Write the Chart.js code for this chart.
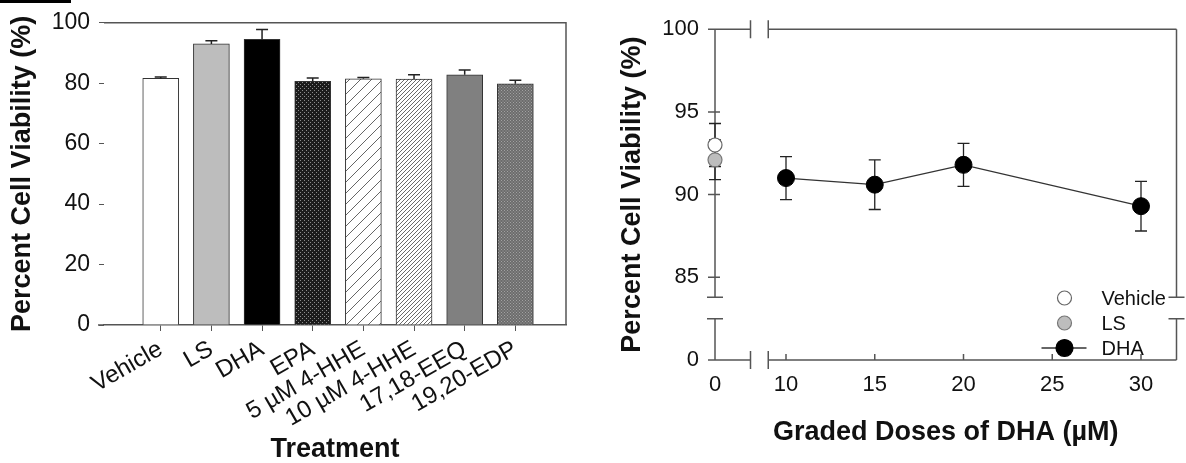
<!DOCTYPE html>
<html>
<head>
<meta charset="utf-8">
<script src="https://cdn.jsdelivr.net/npm/chart.js@4.4.0/dist/chart.umd.min.js"></script>
<style>
  html, body { margin: 0; padding: 0; background: #fff; }
  #wrap  { position: relative; width: 1186px; height: 463px; overflow: hidden; }
  #left  { position: absolute; left: 0; top: 0; width: 600px; height: 463px; }
  #right { position: absolute; left: 600px; top: 0; width: 586px; height: 463px; }
  #mark  { position: absolute; left: 0; top: 0; width: 71px; height: 3px; background: #000; }
</style>
</head>
<body>
<div id="wrap">
  <div id="left"><canvas id="relTreat"></canvas></div>
  <div id="right"><canvas id="relDoses"></canvas></div>
  <div id="mark"></div>
</div>
<script>
// left panel: treatments
var treatments = ["Vehicle", "LS", "DHA", "EPA", "5 µM 4-HHE", "10 µM 4-HHE", "17,18-EEQ", "19,20-EDP"]
var viability  = [81.6, 93.0, 94.5, 80.6, 81.5, 81.4, 82.8, 79.8]
var viabErr    = [0.5, 1.1, 3.3, 1.1, 0.4, 1.4, 1.6, 1.2]

// right panel: graded doses of DHA
var doses       = [10, 15, 20, 30]
var dhaViab     = [91.0, 90.6, 91.8, 89.3]
var dhaErr      = [1.3, 1.5, 1.3, 1.5]
var controlDose = 0
var vehicleViab = [93.0], vehicleErr = [1.3]
var lsViab      = [92.1], lsErr      = [1.2]
var doseTicks   = [0, 10, 15, 20, 25, 30]
var viabTicks   = [0, 85, 90, 95, 100]

// axis breaks (0 is drawn next to the break)
var xZeroAt = 6, xBreak = [8, 9]
var yZeroAt = 80, yBreak = [82.5, 83.8]
function bx(v){ return v === 0 ? xZeroAt : v }
function by(v){ return v === 0 ? yZeroAt : v }

var FONT = "'Liberation Sans', Arial, sans-serif"
Chart.defaults.font.family = FONT
Chart.defaults.color = "#111"

function makePattern(size, draw){
  var c = document.createElement("canvas")
  c.width = c.height = size
  var g = c.getContext("2d")
  draw(g, size)
  return g.createPattern(c, "repeat")
}
function hatch(bg, fg, step, lw){
  return makePattern(step, function(g, s){
    g.fillStyle = bg; g.fillRect(0, 0, s, s)
    g.strokeStyle = fg; g.lineWidth = lw
    g.beginPath()
    g.moveTo(0, s); g.lineTo(s, 0)
    g.moveTo(-1, 1); g.lineTo(1, -1)
    g.moveTo(s - 1, s + 1); g.lineTo(s + 1, s - 1)
    g.stroke()
  })
}
function dots(bg, fg, step){
  return makePattern(step, function(g, s){
    g.fillStyle = bg; g.fillRect(0, 0, s, s)
    g.fillStyle = fg
    g.fillRect(0, 0, 1, 1)
    g.fillRect(s / 2, s / 2, 1, 1)
  })
}

var barFills = [
  "#ffffff",
  "#bdbdbd",
  "#000000",
  dots("#1c1c1c", "#8c8c8c", 4),
  hatch("#ffffff", "#666666", 11, 1),
  hatch("#ffffff", "#6a6a6a", 4, 1),
  "#808080",
  dots("#6c6c6c", "#a2a2a2", 3)
]

//ERROR BARS ON THE TREATMENT BARS (UP ONLY) + FRAME
var barExtras = {
  id: "barExtras",
  afterDatasetsDraw: function(chart){
    var ctx = chart.ctx, xs = chart.scales.x, ys = chart.scales.y, a = chart.chartArea
    ctx.save()
    ctx.strokeStyle = "#222"
    ctx.lineWidth = 1.5
    viability.forEach(function(v, i){
      var x = xs.getPixelForValue(i)
      var y0 = ys.getPixelForValue(v), y1 = ys.getPixelForValue(v + viabErr[i])
      ctx.beginPath()
      ctx.moveTo(x, y0); ctx.lineTo(x, y1)
      ctx.moveTo(x - 6, y1); ctx.lineTo(x + 6, y1)
      ctx.stroke()
    })
    ctx.strokeStyle = "#555"
    ctx.beginPath()
    ctx.moveTo(a.left, a.top); ctx.lineTo(a.right, a.top); ctx.lineTo(a.right, a.bottom)
    ctx.moveTo(a.left - 6, a.bottom); ctx.lineTo(a.left, a.bottom)
    ctx.stroke()
    ctx.restore()
  }
}

new Chart(document.getElementById("relTreat"), {
  type: "bar",
  data: {
    datasets: [{
      data: viability.map(function(v, i){ return { x: i, y: v } }),
      backgroundColor: barFills,
      borderColor: "#333",
      borderWidth: 1,
      barThickness: 36
    }]
  },
  options: {
    responsive: true,
    maintainAspectRatio: false,
    animation: false,
    layout: { padding: { left: 0, right: 34, top: 21, bottom: 0 } },
    plugins: { legend: { display: false }, tooltip: { enabled: false } },
    scales: {
      x: {
        type: "linear",
        offset: false,
        min: -1.12,
        max: 8.0,
        afterBuildTicks: function(s){ s.ticks = treatments.map(function(t, i){ return { value: i } }) },
        afterFit: function(s){ s.height = 138 },
        ticks: {
          callback: function(v){ return treatments[v] },
          autoSkip: false,
          minRotation: 30,
          maxRotation: 30,
          padding: 4,
          font: { size: 24 }
        },
        grid: { display: true, offset: false, drawOnChartArea: false, drawTicks: true, tickLength: 6, color: "#555" },
        border: { display: true, color: "#555", width: 1.5 },
        title: { display: true, text: "Treatment", font: { size: 27, weight: "bold" }, padding: { top: 0, bottom: -3 } }
      },
      y: {
        min: 0,
        max: 100,
        ticks: { stepSize: 20, padding: 9, font: { size: 23 } },
        afterFit: function(s){ s.width = 104 },
        grid: { display: true, drawOnChartArea: false, drawTicks: true, tickLength: 5, color: "#555" },
        border: { display: false },
        title: { display: true, text: "Percent Cell Viability (%)", font: { size: 27, weight: "bold" }, padding: { top: 6, bottom: 0 } }
      }
    }
  },
  plugins: [barExtras]
})

//ERROR BARS, BROKEN FRAME AND LEGEND FOR THE DOSE PANEL
function errPairs(xv, yv, ev){
  return yv.map(function(v, i){ return [bx(xv[i]), v, ev[i]] })
}
var doseExtras = {
  id: "doseExtras",
  beforeDatasetsDraw: function(chart){
    var ctx = chart.ctx, xs = chart.scales.x, ys = chart.scales.y, a = chart.chartArea
    ctx.save()
    ctx.strokeStyle = "#555"
    ctx.lineWidth = 1.5
    var xb0 = xs.getPixelForValue(xBreak[0]), xb1 = xs.getPixelForValue(xBreak[1])
    var yb0 = ys.getPixelForValue(yBreak[1]), yb1 = ys.getPixelForValue(yBreak[0])
    ctx.beginPath()
    // top and bottom lines with a gap
    ;[a.top, a.bottom].forEach(function(y){
      ctx.moveTo(a.left, y); ctx.lineTo(xb0, y)
      ctx.moveTo(xb1, y); ctx.lineTo(a.right, y)
      ctx.moveTo(xb0, y - 9); ctx.lineTo(xb0, y + 9)
      ctx.moveTo(xb1, y - 9); ctx.lineTo(xb1, y + 9)
    })
    // left and right lines with a gap
    ;[a.left, a.right].forEach(function(x){
      ctx.moveTo(x, a.top); ctx.lineTo(x, yb0)
      ctx.moveTo(x, yb1); ctx.lineTo(x, a.bottom)
      ctx.moveTo(x - 8, yb0); ctx.lineTo(x + 8, yb0)
      ctx.moveTo(x - 8, yb1); ctx.lineTo(x + 8, yb1)
    })
    viabTicks.forEach(function(t){
      var y = ys.getPixelForValue(by(t))
      ctx.moveTo(a.left - 7, y); ctx.lineTo(a.left + 5, y)
    })
    doseTicks.forEach(function(t){
      var x = xs.getPixelForValue(bx(t))
      ctx.moveTo(x, a.bottom); ctx.lineTo(x, a.bottom - 6)
    })
    ctx.stroke()

    ctx.strokeStyle = "#222"
    ctx.lineWidth = 1.3
    var all = errPairs(doses, dhaViab, dhaErr)
      .concat(errPairs([controlDose], vehicleViab, vehicleErr))
      .concat(errPairs([controlDose], lsViab, lsErr))
    ctx.beginPath()
    all.forEach(function(p){
      var x = xs.getPixelForValue(p[0])
      var ylo = ys.getPixelForValue(p[1] - p[2]), yhi = ys.getPixelForValue(p[1] + p[2])
      ctx.moveTo(x, ylo); ctx.lineTo(x, yhi)
      ctx.moveTo(x - 6, ylo); ctx.lineTo(x + 6, ylo)
      ctx.moveTo(x - 6, yhi); ctx.lineTo(x + 6, yhi)
    })
    ctx.stroke()
    ctx.restore()
  },
  afterDatasetsDraw: function(chart){
    var ctx = chart.ctx, a = chart.chartArea
    var mx = a.right - 112, tx = a.right - 75
    var rows = [a.bottom - 62, a.bottom - 37, a.bottom - 12]
    ctx.save()
    ctx.font = "20px " + FONT
    ctx.textBaseline = "middle"
    ctx.fillStyle = "#111"
    chart.data.datasets.forEach(function(ds, i){
      var y = rows[i]
      if (ds.showLine !== false) {
        ctx.strokeStyle = ds.borderColor; ctx.lineWidth = 1.3
        ctx.beginPath(); ctx.moveTo(mx - 23, y); ctx.lineTo(mx + 22, y); ctx.stroke()
      }
      ctx.beginPath()
      ctx.arc(mx, y, ds.pointRadius, 0, Math.PI * 2)
      ctx.fillStyle = ds.pointBackgroundColor
      ctx.fill()
      ctx.strokeStyle = ds.pointBorderColor; ctx.lineWidth = 1.2
      ctx.stroke()
      ctx.fillStyle = "#111"
      ctx.fillText(ds.label, tx, y + 1)
    })
    ctx.restore()
  }
}

new Chart(document.getElementById("relDoses"), {
  type: "line",
  data: {
    datasets: [{
      label: "Vehicle",
      data: vehicleViab.map(function(v){ return { x: bx(controlDose), y: v } }),
      showLine: false,
      pointRadius: 7,
      pointBackgroundColor: "#ffffff",
      pointBorderColor: "#666",
      pointBorderWidth: 1.2,
      clip: false
    }, {
      label: "LS",
      data: lsViab.map(function(v){ return { x: bx(controlDose), y: v } }),
      showLine: false,
      pointRadius: 7,
      pointBackgroundColor: "#bdbdbd",
      pointBorderColor: "#777",
      pointBorderWidth: 1.2,
      clip: false
    }, {
      label: "DHA",
      data: doses.map(function(d, i){ return { x: bx(d), y: dhaViab[i] } }),
      borderColor: "#333",
      borderWidth: 1.3,
      pointRadius: 8.5,
      pointBackgroundColor: "#000",
      pointBorderColor: "#000",
      pointBorderWidth: 1,
      clip: false
    }]
  },
  options: {
    responsive: true,
    maintainAspectRatio: false,
    animation: false,
    layout: { padding: { left: 0, right: 2, top: 26, bottom: 0 } },
    plugins: { legend: { display: false }, tooltip: { enabled: false } },
    scales: {
      x: {
        type: "linear",
        min: xZeroAt,
        max: 32,
        afterBuildTicks: function(s){ s.ticks = doseTicks.map(function(t){ return { value: bx(t) } }) },
        afterFit: function(s){ s.height = 103 },
        ticks: { callback: function(v){ return v === xZeroAt ? "0" : v }, autoSkip: false, maxRotation: 0, padding: 12, font: { size: 22 } },
        grid: { display: false, drawTicks: false },
        border: { display: false },
        title: { display: true, text: "Graded Doses of DHA (µM)", font: { size: 27, weight: "bold" }, padding: { top: 0, bottom: 14 } }
      },
      y: {
        min: yZeroAt,
        max: 100,
        afterBuildTicks: function(s){ s.ticks = viabTicks.map(function(t){ return { value: by(t) } }) },
        afterFit: function(s){ s.width = 115 },
        ticks: { callback: function(v){ return v === yZeroAt ? "0" : v }, padding: 16, font: { size: 22 } },
        grid: { display: false, drawTicks: false },
        border: { display: false },
        title: { display: true, text: "Percent Cell Viability (%)", font: { size: 27, weight: "bold" }, padding: { top: 16, bottom: 0 } }
      }
    }
  },
  plugins: [doseExtras]
})
</script>
</body>
</html>
